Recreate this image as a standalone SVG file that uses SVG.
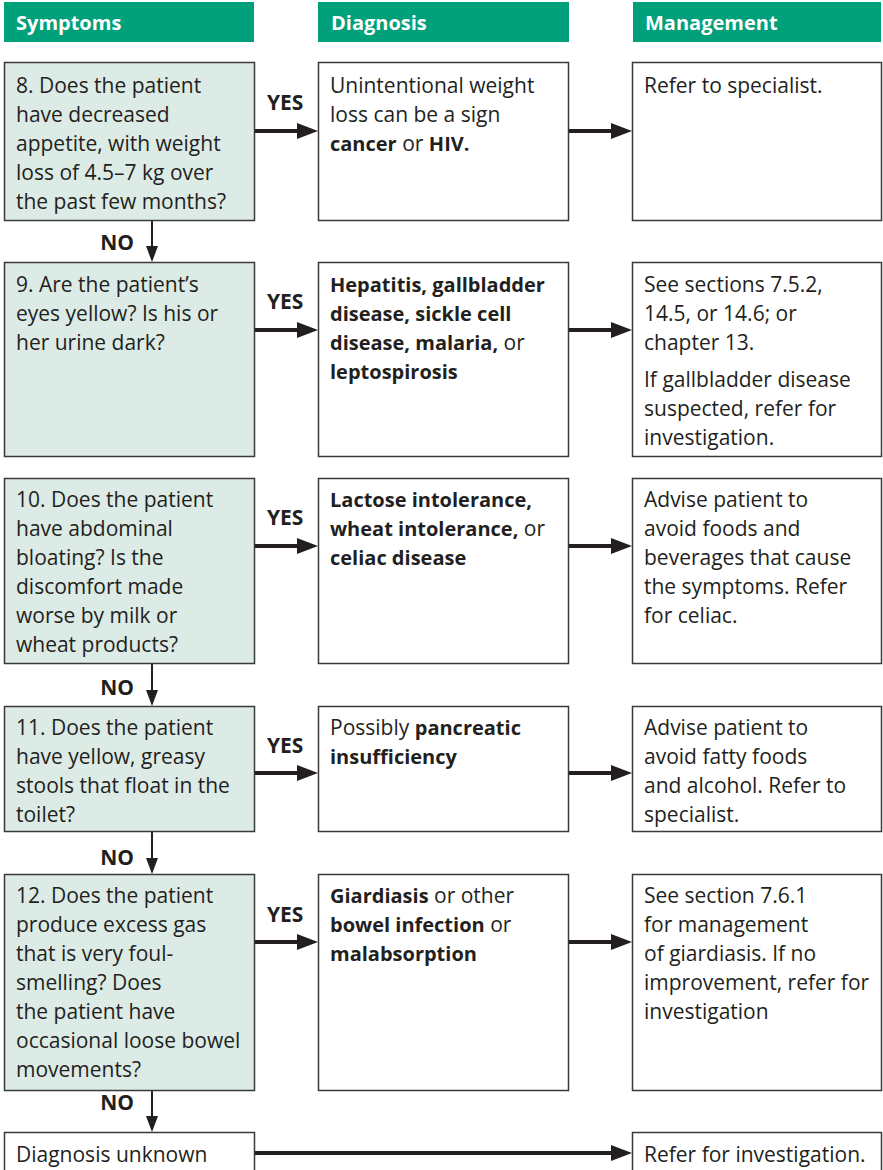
<svg xmlns="http://www.w3.org/2000/svg" width="883" height="1170" viewBox="0 0 883 1170">
  <defs>
    <style>
      .hdr { fill: #00a07a; }
      .hdr-t { font-family: "Open Sans", "Liberation Sans", sans-serif; font-weight: bold; font-size: 20px; fill: #ffffff; }
      .sym { fill: #dcebe6; stroke: #3a3a3a; stroke-width: 1.5; }
      .box { fill: #ffffff; stroke: #3a3a3a; stroke-width: 1.5; }
      .t { font-family: "Open Sans", "Liberation Sans", sans-serif; font-size: 21px; fill: #231f20; }
      .b { font-weight: bold; font-size: 20px; }
      .lbl { font-family: "Open Sans", "Liberation Sans", sans-serif; font-weight: bold; font-size: 21px; fill: #231f20; }
      .yes { stroke: #231f20; stroke-width: 4; fill: none; }
      .no { stroke: #231f20; stroke-width: 2; fill: none; }
    </style>
    <marker id="headThick" markerUnits="userSpaceOnUse" markerWidth="21" markerHeight="16" refX="0" refY="8" orient="auto">
      <path d="M0,0 L21,8 L0,16 Z" fill="#231f20"/>
    </marker>
    <marker id="headThin" markerUnits="userSpaceOnUse" markerWidth="16" markerHeight="12" refX="0" refY="6" orient="auto">
      <path d="M0,0 L16,6 L0,12 Z" fill="#231f20"/>
    </marker>
  </defs>

  <rect width="883" height="1170" fill="#ffffff"/>

  <!-- column headers -->
  <g id="header-symptoms">
    <rect class="hdr" x="4" y="2" width="250" height="40"/>
    <text class="hdr-t" x="16" y="30">Symptoms</text>
  </g>
  <g id="header-diagnosis">
    <rect class="hdr" x="318" y="2" width="251" height="40"/>
    <text class="hdr-t" x="331" y="30">Diagnosis</text>
  </g>
  <g id="header-management">
    <rect class="hdr" x="633" y="2" width="248" height="40"/>
    <text class="hdr-t" x="645" y="30">Management</text>
  </g>

  <!-- row 8 -->
  <g id="q8">
    <rect class="sym" x="4.5" y="62.5" width="250" height="158"/>
    <text class="t">
      <tspan x="16" y="93">8. Does the patient</tspan>
      <tspan x="16" y="122">have decreased</tspan>
      <tspan x="16" y="151">appetite, with weight</tspan>
      <tspan x="16" y="180">loss of 4.5–7 kg over</tspan>
      <tspan x="16" y="209">the past few months?</tspan>
    </text>
  </g>
  <g id="d8">
    <rect class="box" x="318.5" y="62.5" width="250" height="158"/>
    <text class="t">
      <tspan x="330" y="93">Unintentional weight</tspan>
      <tspan x="330" y="122">loss can be a sign</tspan>
      <tspan x="330" y="151"><tspan class="b">cancer</tspan> or <tspan class="b">HIV.</tspan></tspan>
    </text>
  </g>
  <g id="m8">
    <rect class="box" x="632.5" y="62.5" width="249" height="158"/>
    <text class="t"><tspan x="644" y="93">Refer to specialist.</tspan></text>
  </g>

  <!-- row 9 -->
  <g id="q9">
    <rect class="sym" x="4.5" y="262.5" width="250" height="194"/>
    <text class="t">
      <tspan x="16" y="292">9. Are the patient’s</tspan>
      <tspan x="16" y="321">eyes yellow? Is his or</tspan>
      <tspan x="16" y="350">her urine dark?</tspan>
    </text>
  </g>
  <g id="d9">
    <rect class="box" x="318.5" y="262.5" width="250" height="194"/>
    <text class="t">
      <tspan x="330" y="292" class="b">Hepatitis, gallbladder</tspan>
      <tspan x="330" y="321" class="b">disease, sickle cell</tspan>
      <tspan x="330" y="350"><tspan class="b">disease, malaria,</tspan> or</tspan>
      <tspan x="330" y="379" class="b">leptospirosis</tspan>
    </text>
  </g>
  <g id="m9">
    <rect class="box" x="632.5" y="262.5" width="249" height="194"/>
    <text class="t">
      <tspan x="644" y="292">See sections 7.5.2,</tspan>
      <tspan x="644" y="321">14.5, or 14.6; or</tspan>
      <tspan x="644" y="350">chapter 13.</tspan>
      <tspan x="644" y="387">If gallbladder disease</tspan>
      <tspan x="644" y="416">suspected, refer for</tspan>
      <tspan x="644" y="445">investigation.</tspan>
    </text>
  </g>

  <!-- row 10 -->
  <g id="q10">
    <rect class="sym" x="4.5" y="478.5" width="250" height="185"/>
    <text class="t">
      <tspan x="16" y="507">10. Does the patient</tspan>
      <tspan x="16" y="536">have abdominal</tspan>
      <tspan x="16" y="565">bloating? Is the</tspan>
      <tspan x="16" y="594">discomfort made</tspan>
      <tspan x="16" y="623">worse by milk or</tspan>
      <tspan x="16" y="652">wheat products?</tspan>
    </text>
  </g>
  <g id="d10">
    <rect class="box" x="318.5" y="478.5" width="250" height="185"/>
    <text class="t">
      <tspan x="330" y="507" class="b">Lactose intolerance,</tspan>
      <tspan x="330" y="536"><tspan class="b">wheat intolerance,</tspan> or</tspan>
      <tspan x="330" y="565" class="b">celiac disease</tspan>
    </text>
  </g>
  <g id="m10">
    <rect class="box" x="632.5" y="478.5" width="249" height="185"/>
    <text class="t">
      <tspan x="644" y="507">Advise patient to</tspan>
      <tspan x="644" y="536">avoid foods and</tspan>
      <tspan x="644" y="565">beverages that cause</tspan>
      <tspan x="644" y="594">the symptoms. Refer</tspan>
      <tspan x="644" y="623">for celiac.</tspan>
    </text>
  </g>

  <!-- row 11 -->
  <g id="q11">
    <rect class="sym" x="4.5" y="706.5" width="250" height="125"/>
    <text class="t">
      <tspan x="16" y="735">11. Does the patient</tspan>
      <tspan x="16" y="764">have yellow, greasy</tspan>
      <tspan x="16" y="793">stools that float in the</tspan>
      <tspan x="16" y="822">toilet?</tspan>
    </text>
  </g>
  <g id="d11">
    <rect class="box" x="318.5" y="706.5" width="250" height="125"/>
    <text class="t">
      <tspan x="330" y="735">Possibly <tspan class="b">pancreatic</tspan></tspan>
      <tspan x="330" y="764" class="b">insufficiency</tspan>
    </text>
  </g>
  <g id="m11">
    <rect class="box" x="632.5" y="706.5" width="249" height="125"/>
    <text class="t">
      <tspan x="644" y="735">Advise patient to</tspan>
      <tspan x="644" y="764">avoid fatty foods</tspan>
      <tspan x="644" y="793">and alcohol. Refer to</tspan>
      <tspan x="644" y="822">specialist.</tspan>
    </text>
  </g>

  <!-- row 12 -->
  <g id="q12">
    <rect class="sym" x="4.5" y="874.5" width="250" height="216"/>
    <text class="t">
      <tspan x="16" y="903">12. Does the patient</tspan>
      <tspan x="16" y="932">produce excess gas</tspan>
      <tspan x="16" y="961">that is very foul-</tspan>
      <tspan x="16" y="990">smelling? Does</tspan>
      <tspan x="16" y="1019">the patient have</tspan>
      <tspan x="16" y="1048">occasional loose bowel</tspan>
      <tspan x="16" y="1077">movements?</tspan>
    </text>
  </g>
  <g id="d12">
    <rect class="box" x="318.5" y="874.5" width="250" height="216"/>
    <text class="t">
      <tspan x="330" y="903"><tspan class="b">Giardiasis</tspan> or other</tspan>
      <tspan x="330" y="932"><tspan class="b">bowel infection</tspan> or</tspan>
      <tspan x="330" y="961" class="b">malabsorption</tspan>
    </text>
  </g>
  <g id="m12">
    <rect class="box" x="632.5" y="874.5" width="249" height="216"/>
    <text class="t">
      <tspan x="644" y="903">See section 7.6.1</tspan>
      <tspan x="644" y="932">for management</tspan>
      <tspan x="644" y="961">of giardiasis. If no</tspan>
      <tspan x="644" y="990">improvement, refer for</tspan>
      <tspan x="644" y="1019">investigation</tspan>
    </text>
  </g>

  <!-- final row -->
  <g id="unknown">
    <rect class="box" x="4.5" y="1132.5" width="250" height="50"/>
    <text class="t"><tspan x="16" y="1162">Diagnosis unknown</tspan></text>
  </g>
  <g id="refer-final">
    <rect class="box" x="632.5" y="1132.5" width="249" height="50"/>
    <text class="t"><tspan x="644" y="1162">Refer for investigation.</tspan></text>
  </g>

  <!-- connectors -->
  <g id="connectors">
    <!-- YES: symptom to diagnosis -->
    <line class="yes" x1="255" y1="131" x2="297" y2="131" marker-end="url(#headThick)"/>
    <line class="yes" x1="255" y1="330" x2="297" y2="330" marker-end="url(#headThick)"/>
    <line class="yes" x1="255" y1="546" x2="297" y2="546" marker-end="url(#headThick)"/>
    <line class="yes" x1="255" y1="773" x2="297" y2="773" marker-end="url(#headThick)"/>
    <line class="yes" x1="255" y1="942" x2="297" y2="942" marker-end="url(#headThick)"/>
    <!-- diagnosis to management -->
    <line class="yes" x1="569" y1="131" x2="611" y2="131" marker-end="url(#headThick)"/>
    <line class="yes" x1="569" y1="330" x2="611" y2="330" marker-end="url(#headThick)"/>
    <line class="yes" x1="569" y1="546" x2="611" y2="546" marker-end="url(#headThick)"/>
    <line class="yes" x1="569" y1="773" x2="611" y2="773" marker-end="url(#headThick)"/>
    <line class="yes" x1="569" y1="942" x2="611" y2="942" marker-end="url(#headThick)"/>
    <line class="yes" x1="255" y1="1153" x2="611" y2="1153" marker-end="url(#headThick)"/>
    <!-- NO: down to next question -->
    <line class="no" x1="152" y1="221" x2="152" y2="246" marker-end="url(#headThin)"/>
    <line class="no" x1="152" y1="664" x2="152" y2="690" marker-end="url(#headThin)"/>
    <line class="no" x1="152" y1="832" x2="152" y2="858" marker-end="url(#headThin)"/>
    <line class="no" x1="152" y1="1091" x2="152" y2="1116" marker-end="url(#headThin)"/>

    <text class="lbl" x="267" y="110">YES</text>
    <text class="lbl" x="267" y="309">YES</text>
    <text class="lbl" x="267" y="525">YES</text>
    <text class="lbl" x="267" y="753">YES</text>
    <text class="lbl" x="267" y="922">YES</text>
    <text class="lbl" x="134" y="250" text-anchor="end">NO</text>
    <text class="lbl" x="134" y="695" text-anchor="end">NO</text>
    <text class="lbl" x="134" y="865" text-anchor="end">NO</text>
    <text class="lbl" x="134" y="1110" text-anchor="end">NO</text>
  </g>
</svg>
